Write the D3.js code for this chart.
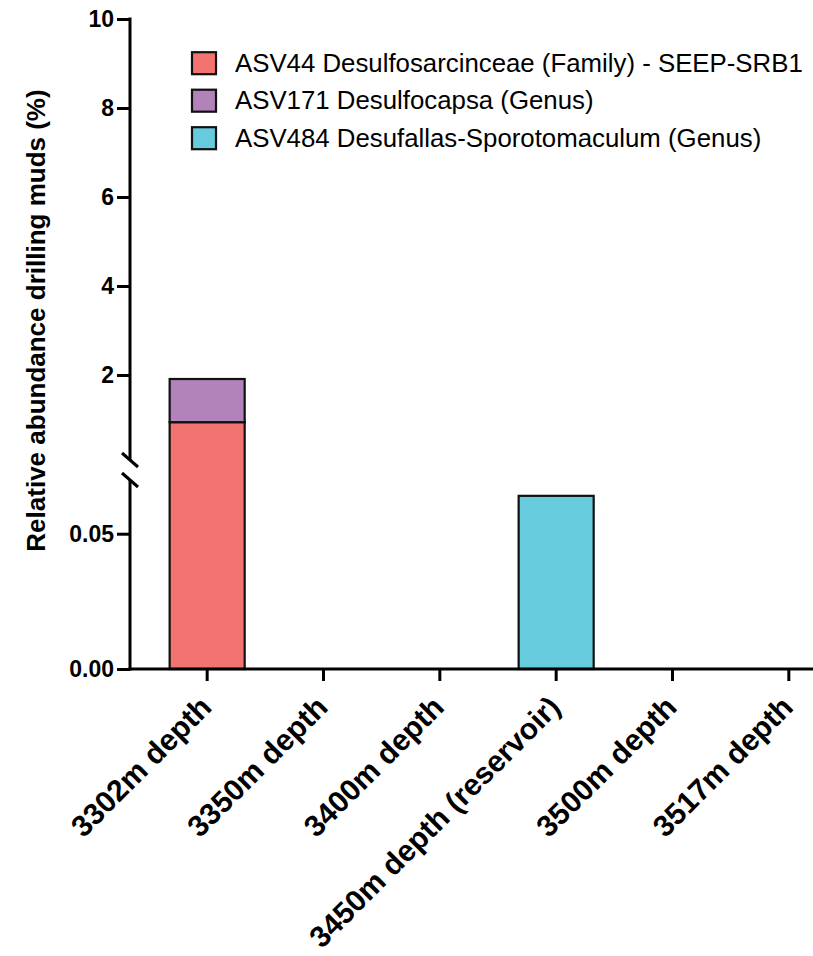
<!DOCTYPE html>
<html><head><meta charset="utf-8">
<script src="https://cdn.jsdelivr.net/npm/d3@7"></script>
<style>html,body{margin:0;padding:0;background:#fff;}</style>
</head><body>
<script>
const categories = ["3302m depth", "3350m depth", "3400m depth", "3450m depth (reservoir)", "3500m depth", "3517m depth"];
const seriesNames = ["ASV44 Desulfosarcinceae (Family) - SEEP-SRB1", "ASV171 Desulfocapsa (Genus)", "ASV484 Desufallas-Sporotomaculum (Genus)"];
const asv44 = [0.94, 0, 0, 0, 0, 0];
const asv171 = [0.97, 0, 0, 0, 0, 0];
const asv484 = [0, 0, 0, 0.064, 0, 0];
const colors = ["#F2736F", "#B283BA", "#66CBDC"];
const upperTicks = [2, 4, 6, 8, 10];
const lowerTicks = [0, 0.05];

const W = 813, H = 956;
const svg = d3.select("body").append("svg").attr("width", W).attr("height", H);
const font = "'Liberation Sans', Arial, Helvetica, sans-serif";

const axisX = 130, baseY = 669;
const lowMax = 0.07;
const yLow = d3.scaleLinear().domain([0, lowMax]).range([baseY, 479.6]);
const yUp = d3.scaleLinear().domain([0, 10]).range([464, 19]);
const yPos = v => v <= lowMax ? yLow(v) : yUp(v);

const x = d3.scaleBand().domain(categories).range([149, 847]).paddingInner(0.355).paddingOuter(0.1775);

const rows = categories.map((c, i) => ({cat: c, s0: asv44[i], s1: asv171[i], s2: asv484[i]}));
const stack = d3.stack().keys(["s0", "s1", "s2"]);
const stacked = stack(rows);

const g = svg.append("g");
stacked.forEach((layer, li) => {
  g.selectAll(null).data(layer.filter(d => d[1] - d[0] > 0)).enter().append("rect")
    .attr("x", d => x(d.data.cat))
    .attr("width", x.bandwidth())
    .attr("y", d => yPos(d[1]))
    .attr("height", d => yPos(d[0]) - yPos(d[1]))
    .attr("fill", colors[li])
    .attr("stroke", "#111")
    .attr("stroke-width", 2.2);
});

// Y axis upper
const axUp = svg.append("g").attr("transform", `translate(${axisX},0)`)
  .call(d3.axisLeft(yUp).tickValues(upperTicks).tickSize(13).tickPadding(3).tickFormat(d3.format("d")));
axUp.select(".domain").remove();
axUp.append("line").attr("x1", 0).attr("x2", 0).attr("y1", yUp(10) - 1.5).attr("y2", 460).attr("stroke", "#000").attr("stroke-width", 3);

const axLow = svg.append("g").attr("transform", `translate(${axisX},0)`)
  .call(d3.axisLeft(yLow).tickValues(lowerTicks).tickSize(13).tickPadding(3).tickFormat(d3.format(".2f")));
axLow.select(".domain").remove();
axLow.append("line").attr("x1", 0).attr("x2", 0).attr("y1", 480).attr("y2", baseY + 1.5).attr("stroke", "#000").attr("stroke-width", 3);

[axUp, axLow].forEach(a => {
  a.selectAll(".tick line").attr("stroke", "#000").attr("stroke-width", 3);
  a.selectAll(".tick text").attr("font-family", font).attr("font-weight", "bold").attr("font-size", 23).attr("fill", "#000");
});

// break marks
[[453, 467], [473, 487]].forEach(([a, b]) => {
  svg.append("line").attr("x1", axisX - 8).attr("y1", a).attr("x2", axisX + 8).attr("y2", b)
    .attr("stroke", "#000").attr("stroke-width", 3);
});

// X axis
const axB = svg.append("g").attr("transform", `translate(0,${baseY})`)
  .call(d3.axisBottom(x).tickSize(12).tickFormat(""));
axB.select(".domain").remove();
axB.append("line").attr("x1", axisX - 1.5).attr("x2", W).attr("y1", 0).attr("y2", 0).attr("stroke", "#000").attr("stroke-width", 3);
axB.selectAll(".tick line").attr("stroke", "#000").attr("stroke-width", 3);

svg.append("g").selectAll("text").data(categories).enter().append("text")
  .attr("transform", d => `translate(${x(d) + x.bandwidth() / 2 + 6},${baseY + 40}) rotate(-45)`)
  .attr("text-anchor", "end")
  .attr("font-family", font).attr("font-weight", "bold").attr("font-size", 30)
  .text(d => d);

// Y title
svg.append("text")
  .attr("transform", `translate(45,320.5) rotate(-90)`)
  .attr("text-anchor", "middle")
  .attr("font-family", font).attr("font-weight", "bold").attr("font-size", 26)
  .text("Relative abundance drilling muds (%)");

// Legend
const leg = svg.append("g");
seriesNames.forEach((n, i) => {
  const base = 71.7 + i * 37.5;
  leg.append("rect").attr("x", 192).attr("y", base - 19.5).attr("width", 24).attr("height", 22)
    .attr("fill", colors[i]).attr("stroke", "#111").attr("stroke-width", 2.2);
  leg.append("text").attr("x", 235).attr("y", base)
    .attr("font-family", font).attr("font-size", 25.8).text(n);
});
</script>
</body></html>
